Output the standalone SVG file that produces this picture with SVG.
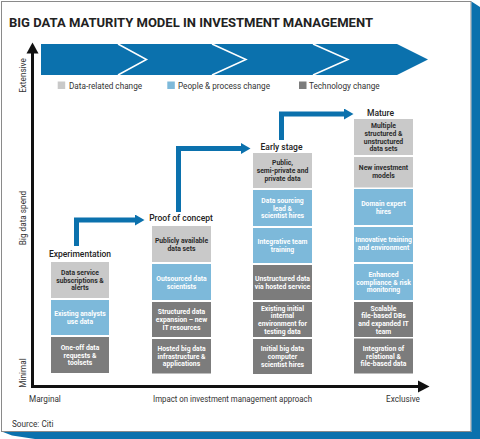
<svg xmlns="http://www.w3.org/2000/svg" width="480" height="439" viewBox="0 0 480 439">
<style>
  .panel{fill:#ffffff;stroke:#8a8a8a;stroke-width:1}
  .band{fill:#0b71ad}
  .title{font-family:Roboto,"Liberation Sans",sans-serif;font-weight:700;font-size:13px;fill:#222}
  .leg{font-family:Roboto,"Liberation Sans",sans-serif;font-size:8.2px;fill:#333}
  .ax{font-family:Roboto,"Liberation Sans",sans-serif;font-size:8.2px;fill:#333}
  .lbl{font-family:Roboto,"Liberation Sans",sans-serif;font-weight:500;font-size:8.5px;fill:#222;text-anchor:middle}
  .bd{fill:#c9c9c9}
  .bp{fill:#7db9da}
  .bt{fill:#7c7c7c}
  .tx{font-family:Roboto,"Liberation Sans",sans-serif;font-weight:700;font-size:6.8px;text-anchor:middle}
  .td{fill:#2b2b2b}
  .tl{fill:#ffffff}
  .flow{fill:none;stroke:#0b71ad;stroke-width:5;stroke-linejoin:miter}
  .axis{fill:none;stroke:#111;stroke-width:3}
  .chev{fill:none;stroke:#ffffff;stroke-width:1.5}
</style>
<defs>
  <marker id="ah" markerUnits="userSpaceOnUse" markerWidth="10" markerHeight="11" refX="0" refY="5.5" orient="auto" viewBox="0 0 10 11">
    <path d="M0,0 L9.5,5.5 L0,11 z" fill="#0b71ad"/>
  </marker>
</defs>

<!-- frame -->
<rect class="panel" x="1.5" y="1.5" width="469.5" height="430"/>
<polygon class="band" points="471.5,1.5 480,7 480,439 471.5,439"/>
<polygon class="band" points="3,432 480,432 480,439 35,439 12,435.5"/>

<text class="title" x="9" y="26.5" textLength="364" lengthAdjust="spacingAndGlyphs">BIG DATA MATURITY MODEL IN INVESTMENT MANAGEMENT</text>

<!-- banner -->
<g id="banner">
  <polygon class="band" points="41,44 397,44 428,59.5 397,75 41,75"/>
  <polyline class="chev" points="118,44 146.5,59.5 118,75"/>
  <polyline class="chev" points="212,44 246,59.5 212,75"/>
  <polyline class="chev" points="313,44 348,59.5 313,75"/>
</g>

<!-- legend -->
<g id="legend">
  <rect class="bd" x="57.7" y="81.5" width="7.5" height="7.5"/>
  <text class="leg" x="69" y="88.5">Data-related change</text>
  <rect class="bp" x="167.3" y="81.5" width="7.5" height="7.5"/>
  <text class="leg" x="178" y="88.5">People &amp; process change</text>
  <rect class="bt" x="299" y="81.5" width="7.5" height="7.5"/>
  <text class="leg" x="309" y="88.5">Technology change</text>
</g>

<!-- axes -->
<g id="axes">
  <line class="axis" x1="32.5" y1="388" x2="32.5" y2="52"/>
  <polygon points="26.5,53.5 32.5,42.5 38.5,53.5" fill="#111"/>
  <line class="axis" x1="31" y1="386.5" x2="419" y2="386.5"/>
  <polygon points="418,380.5 429.5,386.5 418,392.5" fill="#111"/>
  <text class="ax" text-anchor="middle" transform="translate(26.3,75.5) rotate(-90)">Extensive</text>
  <text class="ax" text-anchor="middle" transform="translate(26.3,218) rotate(-90)">Big data spend</text>
  <text class="ax" text-anchor="middle" transform="translate(26.3,373) rotate(-90)">Minimal</text>
  <text class="ax" x="29" y="401.5">Marginal</text>
  <text class="ax" x="153" y="401.5" textLength="159" lengthAdjust="spacingAndGlyphs">Impact on investment management approach</text>
  <text class="ax" x="386" y="401.5">Exclusive</text>
  <text class="ax" x="12" y="426.5">Source: Citi</text>
</g>

<!-- connectors -->
<g id="connectors">
  <path class="flow" d="M76.5,246 V220 H135" marker-end="url(#ah)"/>
  <path class="flow" d="M178.5,212 V148.5 H241" marker-end="url(#ah)"/>
  <path class="flow" d="M281.5,140 V114 H344" marker-end="url(#ah)"/>
</g>

<!-- Experimentation -->
<g id="experimentation">
  <text class="lbl" x="80" y="256.5">Experimentation</text>
  <g id="exp-data">
    <rect class="bd" x="51" y="262" width="58" height="36"/>
    <text class="tx td"><tspan x="80" y="275">Data service</tspan><tspan x="80" y="282.7">subscriptions &amp;</tspan><tspan x="80" y="290.4">alerts</tspan></text>
  </g>
  <g id="exp-people">
    <rect class="bp" x="51" y="300" width="58" height="35"/>
    <text class="tx tl"><tspan x="80" y="316.3">Existing analysts</tspan><tspan x="80" y="324">use data</tspan></text>
  </g>
  <g id="exp-tech">
    <rect class="bt" x="51" y="337" width="58" height="36"/>
    <text class="tx tl"><tspan x="80" y="349.9">One-off data</tspan><tspan x="80" y="357.6">requests &amp;</tspan><tspan x="80" y="365.3">toolsets</tspan></text>
  </g>
</g>

<!-- Proof of concept -->
<g id="proof-of-concept">
  <text class="lbl" x="181" y="220.5">Proof of concept</text>
  <g id="poc-data">
    <rect class="bd" x="152" y="226" width="59" height="36"/>
    <text class="tx td"><tspan x="181.5" y="242.8">Publicly available</tspan><tspan x="181.5" y="250.5">data sets</tspan></text>
  </g>
  <g id="poc-people">
    <rect class="bp" x="152" y="264" width="59" height="36"/>
    <text class="tx tl"><tspan x="181.5" y="280.8">Outsourced data</tspan><tspan x="181.5" y="288.5">scientists</tspan></text>
  </g>
  <g id="poc-tech1">
    <rect class="bt" x="152" y="302" width="59" height="35"/>
    <text class="tx tl"><tspan x="181.5" y="314.4">Structured data</tspan><tspan x="181.5" y="322.1">expansion – new</tspan><tspan x="181.5" y="329.8">IT resources</tspan></text>
  </g>
  <g id="poc-tech2">
    <rect class="bt" x="152" y="339" width="59" height="34.5"/>
    <text class="tx tl"><tspan x="181.5" y="350.9">Hosted big data</tspan><tspan x="181.5" y="358.6">infrastructure &amp;</tspan><tspan x="181.5" y="366.3">applications</tspan></text>
  </g>
</g>

<!-- Early stage -->
<g id="early-stage">
  <text class="lbl" x="281.5" y="149.5">Early stage</text>
  <g id="es-data">
    <rect class="bd" x="253" y="153" width="59" height="35"/>
    <text class="tx td"><tspan x="282.5" y="165.4">Public,</tspan><tspan x="282.5" y="173.1">semi-private and</tspan><tspan x="282.5" y="180.8">private data</tspan></text>
  </g>
  <g id="es-people1">
    <rect class="bp" x="253" y="190" width="59" height="36"/>
    <text class="tx tl"><tspan x="282.5" y="202.9">Data sourcing</tspan><tspan x="282.5" y="210.6">lead &amp;</tspan><tspan x="282.5" y="218.3">scientist hires</tspan></text>
  </g>
  <g id="es-people2">
    <rect class="bp" x="253" y="228" width="59" height="35"/>
    <text class="tx tl"><tspan x="282.5" y="244.3">Integrative team</tspan><tspan x="282.5" y="252">training</tspan></text>
  </g>
  <g id="es-tech1">
    <rect class="bt" x="253" y="265" width="59" height="35"/>
    <text class="tx tl"><tspan x="282.5" y="281.3">Unstructured data</tspan><tspan x="282.5" y="289">via hosted service</tspan></text>
  </g>
  <g id="es-tech2">
    <rect class="bt" x="253" y="302" width="59" height="35"/>
    <text class="tx tl"><tspan x="282.5" y="310.6">Existing initial</tspan><tspan x="282.5" y="318.3">internal</tspan><tspan x="282.5" y="326">environment for</tspan><tspan x="282.5" y="333.7">testing data</tspan></text>
  </g>
  <g id="es-tech3">
    <rect class="bt" x="253" y="339" width="59" height="35"/>
    <text class="tx tl"><tspan x="282.5" y="351.4">Initial big data</tspan><tspan x="282.5" y="359.1">computer</tspan><tspan x="282.5" y="366.8">scientist hires</tspan></text>
  </g>
</g>

<!-- Mature -->
<g id="mature">
  <text class="lbl" x="380.5" y="116">Mature</text>
  <g id="m-data1">
    <rect class="bd" x="354" y="119" width="59" height="36"/>
    <text class="tx td"><tspan x="383.5" y="128.1">Multiple</tspan><tspan x="383.5" y="135.8">structured &amp;</tspan><tspan x="383.5" y="143.5">unstructured</tspan><tspan x="383.5" y="151.2">data sets</tspan></text>
  </g>
  <g id="m-data2">
    <rect class="bd" x="354" y="157" width="59" height="30.5"/>
    <text class="tx td"><tspan x="383.5" y="170">New investment</tspan><tspan x="383.5" y="177.7">models</tspan></text>
  </g>
  <g id="m-people1">
    <rect class="bp" x="354" y="189" width="59" height="36"/>
    <text class="tx tl"><tspan x="383.5" y="205.8">Domain expert</tspan><tspan x="383.5" y="213.5">hires</tspan></text>
  </g>
  <g id="m-people2">
    <rect class="bp" x="354" y="227" width="59" height="35"/>
    <text class="tx tl"><tspan x="383.5" y="242.3">Innovative training</tspan><tspan x="383.5" y="250">and environment</tspan></text>
  </g>
  <g id="m-people3">
    <rect class="bp" x="354" y="264" width="59" height="36"/>
    <text class="tx tl"><tspan x="383.5" y="276.9">Enhanced</tspan><tspan x="383.5" y="284.6">compliance &amp; risk</tspan><tspan x="383.5" y="292.3">monitoring</tspan></text>
  </g>
  <g id="m-tech1">
    <rect class="bt" x="354" y="302" width="59" height="35"/>
    <text class="tx tl"><tspan x="383.5" y="310.6">Scalable</tspan><tspan x="383.5" y="318.3">file-based DBs</tspan><tspan x="383.5" y="326">and expanded IT</tspan><tspan x="383.5" y="333.7">team</tspan></text>
  </g>
  <g id="m-tech2">
    <rect class="bt" x="354" y="338.5" width="59" height="35"/>
    <text class="tx tl"><tspan x="383.5" y="350.9">Integration of</tspan><tspan x="383.5" y="358.6">relational &amp;</tspan><tspan x="383.5" y="366.3">file-based data</tspan></text>
  </g>
</g>
</svg>
